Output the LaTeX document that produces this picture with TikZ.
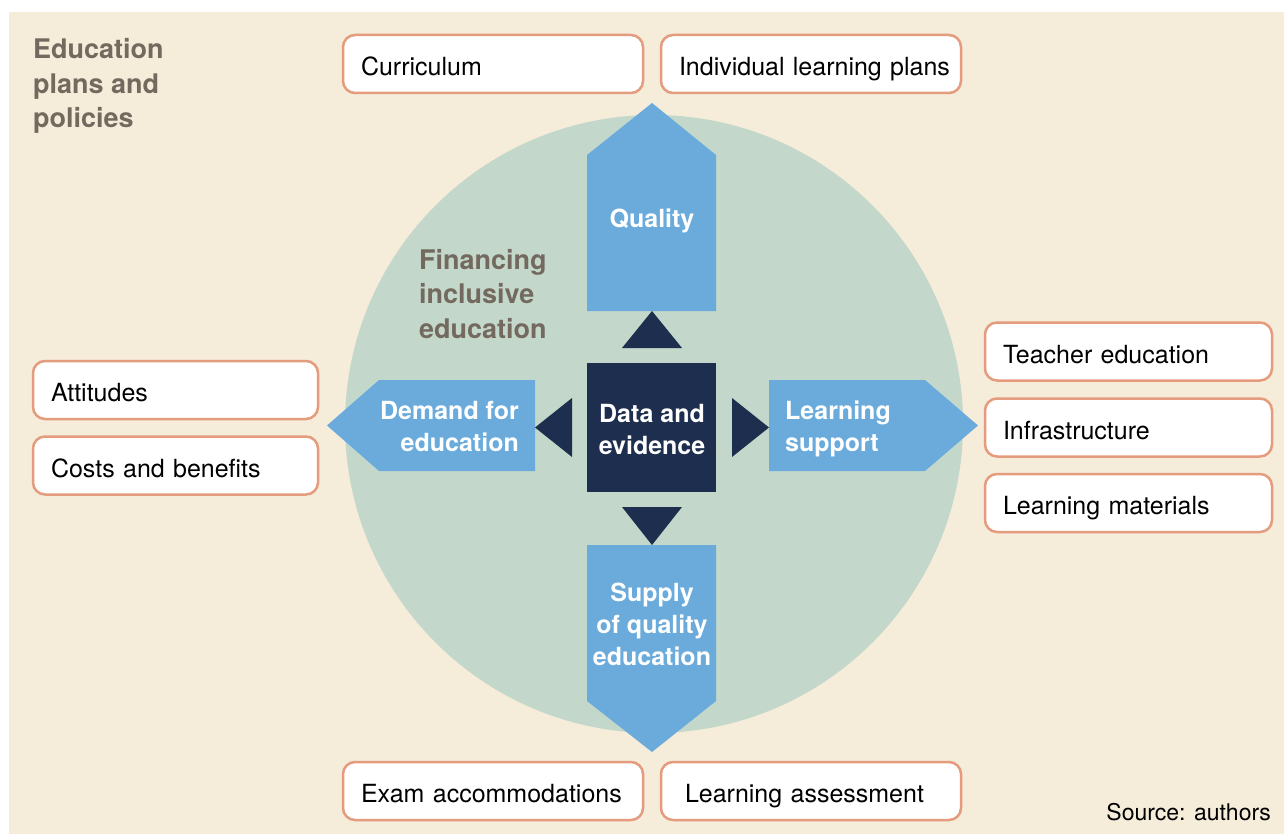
\documentclass[tikz,border=0pt]{standalone}
\usepackage{fontspec}
\setmainfont{TeX Gyre Heros}
\definecolor{bgc}{HTML}{F5ECDA}
\definecolor{circc}{HTML}{C3D8CB}
\definecolor{bluec}{HTML}{6AABDC}
\definecolor{navyc}{HTML}{1E2E4E}
\definecolor{boxc}{HTML}{E59C7E}
\definecolor{titlec}{HTML}{74695F}
\begin{document}
\begin{tikzpicture}[x=1pt,y=-1pt,
  itembox/.style={draw=boxc, line width=2.5pt, fill=white, rounded corners=12pt,
    minimum height=58pt, inner xsep=18pt, align=left, text height=23pt, text depth=0pt,
    font=\fontsize{25}{30}\selectfont},
  w300/.style={minimum width=300pt, text width=264pt},
  w285/.style={minimum width=285pt, text width=249pt},
  w287/.style={minimum width=287pt, text width=251pt},
  arrowtext/.style={text=white, inner sep=0pt, font=\bfseries\fontsize{25}{32}\selectfont},
  titletext/.style={text=titlec, inner sep=0pt, align=left, font=\bfseries\fontsize{27}{34.8}\selectfont},
  blueshape/.style={fill=bluec},
  navyshape/.style={fill=navyc}]
\useasboundingbox (0,0) rectangle (1284,834);
\fill[white] (0,0) rectangle (1284,834);
\fill[bgc] (9,12) rectangle (1284,834);
\fill[circc] (654,424) circle[radius=309];
% blue arrows
\fill[blueshape] (587,311) -- (587,155) -- (652,103) -- (716,155) -- (716,311) -- cycle;
\fill[blueshape] (587,545) -- (716,545) -- (716,701) -- (652,752) -- (587,701) -- cycle;
\fill[blueshape] (535,380) -- (379,380) -- (327,425.5) -- (379,471) -- (535,471) -- cycle;
\fill[blueshape] (769,380) -- (925,380) -- (978,425.5) -- (925,471) -- (769,471) -- cycle;
% navy triangles and square
\fill[navyshape] (622,348) -- (652,311) -- (682,348) -- cycle;
\fill[navyshape] (622,507) -- (682,507) -- (652,545) -- cycle;
\fill[navyshape] (572,398) -- (535,427.5) -- (572,457) -- cycle;
\fill[navyshape] (732,398) -- (769,427.5) -- (732,457) -- cycle;
\fill[navyshape] (587,363) rectangle (716,492);
% texts in shapes
\node[arrowtext, anchor=base] (quality) at (652,228) {Quality};
\node[arrowtext, align=center] (data) at (652,429) {Data and\\evidence};
\node[arrowtext, align=right, anchor=east] (demand) at (519,426) {Demand for\\education};
\node[arrowtext, align=left, anchor=west] (support) at (785,429) {Learning\\support};
\node[arrowtext, align=center] (supply) at (652,624) {Supply\\of quality\\education};
% titles
\node[titletext, anchor=west] (plans) at (33,86) {Education\\plans and\\policies};
\node[titletext, anchor=west] (financing) at (419,294) {Financing\\inclusive\\education};
% boxes
\node[itembox, w300] (curr) at (493,64) {Curriculum};
\node[itembox, w300] (ilp) at (811,64) {\mbox{Individual learning plans}};
\node[itembox, w300] (exam) at (493,791) {Exam accommodations};
\node[itembox, minimum width=300pt, text width=252pt, inner xsep=24pt] (assess) at (811,791) {Learning assessment};
\node[itembox, w285] (att) at (175.5,390) {Attitudes};
\node[itembox, w285] (costs) at (175.5,465.5) {Costs and benefits};
\node[itembox, w287] (teach) at (1128.5,351.5) {Teacher education};
\node[itembox, w287] (infra) at (1128.5,427.5) {Infrastructure};
\node[itembox, w287] (mat) at (1128.5,503) {Learning materials};
% source
\node[inner sep=0pt, anchor=base east, font=\fontsize{23}{28}\selectfont] (source) at (1271,820) {Source: authors};
\end{tikzpicture}
\end{document}
